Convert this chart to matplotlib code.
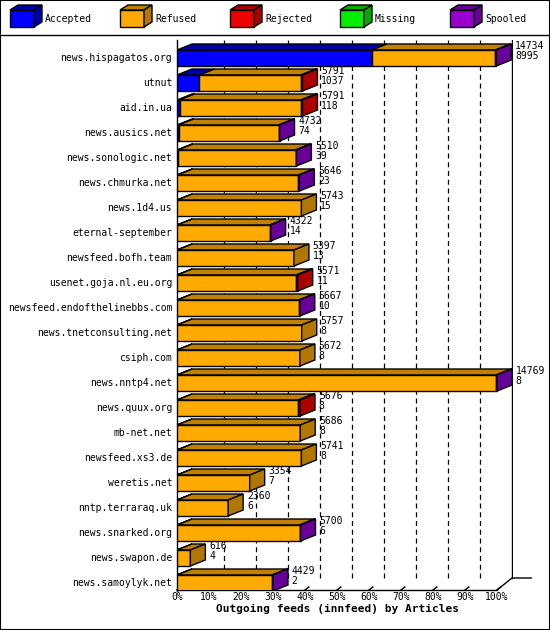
import matplotlib
matplotlib.use("Agg")
import matplotlib.pyplot as plt
from matplotlib.patches import Polygon, Rectangle

feeds = ["news.hispagatos.org", "utnut", "aid.in.ua", "news.ausics.net", "news.sonologic.net",
         "news.chmurka.net", "news.1d4.us", "eternal-september", "newsfeed.bofh.team",
         "usenet.goja.nl.eu.org", "newsfeed.endofthelinebbs.com", "news.tnetconsulting.net",
         "csiph.com", "news.nntp4.net", "news.quux.org", "mb-net.net", "newsfeed.xs3.de",
         "weretis.net", "nntp.terraraq.uk", "news.snarked.org", "news.swapon.de", "news.samoylyk.net"]
offered = [14734, 5791, 5791, 4732, 5510, 5646, 5743, 4322, 5397, 5571, 5667, 5757, 5672,
           14769, 5676, 5686, 5741, 3354, 2360, 5700, 616, 4429]
accepted = [8995, 1037, 118, 74, 39, 23, 15, 14, 13, 11, 10, 8, 8, 8, 8, 8, 8, 7, 6, 6, 4, 2]
rejected = [0, 70, 70, 0, 0, 0, 0, 0, 0, 70, 0, 0, 0, 0, 70, 0, 0, 0, 0, 0, 0, 0]
missing = [0] * 22
spooled = [40, 0, 0, 40, 40, 40, 0, 40, 0, 0, 40, 0, 0, 40, 0, 0, 0, 0, 0, 40, 0, 40]
legend_labels = ["Accepted", "Refused", "Rejected", "Missing", "Spooled"]
xticks = [0, 10, 20, 30, 40, 50, 60, 70, 80, 90, 100]

front = ["#0000FF", "#FFAA00", "#EE0000", "#00EE00", "#9900CC"]
top = ["#0000AA", "#C08000", "#AA0000", "#00AA00", "#660099"]
side = ["#0000AA", "#B07800", "#AA0000", "#00AA00", "#660099"]

W, H = 550, 630
fig = plt.figure(figsize=(5.5, 6.3), dpi=100)
mono = "DejaVu Sans Mono"
fs = 7

def fx(px): return px / W
def fy(py): return 1 - py / H

fig.patches.append(Rectangle((0, 0), 1, 1, transform=fig.transFigure, fill=False, lw=1.5, ec="black"))
fig.add_artist(plt.Line2D([0, 1], [fy(35), fy(35)], transform=fig.transFigure, color="black", lw=1))

lx = [10, 120, 230, 340, 450]
for i, lab in enumerate(legend_labels):
    x0 = lx[i]
    fig.patches.append(Polygon([(fx(x0), fy(27)), (fx(x0 + 24), fy(27)), (fx(x0 + 24), fy(10)), (fx(x0), fy(10))],
                               closed=True, transform=fig.transFigure, fc=front[i], ec="black", lw=1))
    fig.patches.append(Polygon([(fx(x0), fy(10)), (fx(x0 + 24), fy(10)), (fx(x0 + 32), fy(5)), (fx(x0 + 8), fy(5))],
                               closed=True, transform=fig.transFigure, fc=top[i], ec="black", lw=1))
    fig.patches.append(Polygon([(fx(x0 + 24), fy(27)), (fx(x0 + 32), fy(22)), (fx(x0 + 32), fy(5)), (fx(x0 + 24), fy(10))],
                               closed=True, transform=fig.transFigure, fc=side[i], ec="black", lw=1))
    fig.text(fx(x0 + 35), fy(19), lab, fontsize=fs, family=mono, va="center")

ax = fig.add_axes([fx(177), fy(590), fx(513) - fx(177), fy(40) - fy(590)])
ax.set_xlim(0, (513 - 177) / 3.2)
ax.set_ylim((590 - 58) / 25, -(58 - 40) / 25)
ax.axis("off")
ax.patch.set_alpha(0)

dx = 15 / 3.2
dy = 6 / 25
hh = 8 / 25
n = len(feeds)
floor = (590 - 58) / 25

for t in xticks[1:-1]:
    ax.plot([t + dx, t + dx], [floor - dy * 2, -0.72], ls=(0, (4, 3)), color="black", lw=0.9, zorder=0)
ax.plot([100 + dx, 100 + dx], [floor - dy * 2, -0.72], color="black", lw=1, zorder=0)
ax.plot([0, 0], [floor + 0.05, -0.72], color="black", lw=1, zorder=0, clip_on=False)
ax.plot([0, 100], [floor, floor], color="black", lw=1, clip_on=False)
ax.plot([100, 100 + dx, 100 + dx + 6], [floor, floor - 2 * dy, floor - 2 * dy], color="black", lw=1, clip_on=False)
for t in xticks:
    ax.plot([t, t + 1.2], [floor, floor - 0.12], color="black", lw=1, clip_on=False)
    ax.text(t, floor + 0.3, f"{t}%", ha="center", va="center", fontsize=fs, family=mono)
ax.text(50, floor + 0.75, "Outgoing feeds (innfeed) by Articles", ha="center", va="center",
        fontsize=8, family=mono, weight="bold")

mx = max(offered)
for i in range(n):
    refused = offered[i] - accepted[i] - rejected[i] - missing[i] - spooled[i]
    segs = [accepted[i], refused, rejected[i], missing[i], spooled[i]]
    x = 0.0
    last = 0
    yb, yt = i + hh, i - hh
    for k, v in enumerate(segs):
        if v <= 0:
            continue
        w = v / mx * 100
        ax.add_patch(Polygon([(x, yt), (x + w, yt), (x + w + dx, yt - dy), (x + dx, yt - dy)],
                             fc=top[k], ec="black", lw=1, zorder=2 + i))
        ax.add_patch(Rectangle((x, yt), w, 2 * hh, fc=front[k], ec="black", lw=1, zorder=3 + i))
        x += w
        last = k
    ax.add_patch(Polygon([(x, yb), (x + dx, yb - dy), (x + dx, yt - dy), (x, yt)],
                         fc=side[last], ec="black", lw=1, zorder=3 + i))
    ax.text(x + dx + 1.2, yt - dy - 0.1, f"{offered[i]}\n{accepted[i]}", fontsize=fs, family=mono,
            va="top", ha="left", linespacing=0.95, zorder=50, clip_on=False)
    ax.text(-1.5, i, feeds[i], ha="right", va="center", fontsize=fs, family=mono, clip_on=False)

fig.savefig("out.png", dpi=100)
